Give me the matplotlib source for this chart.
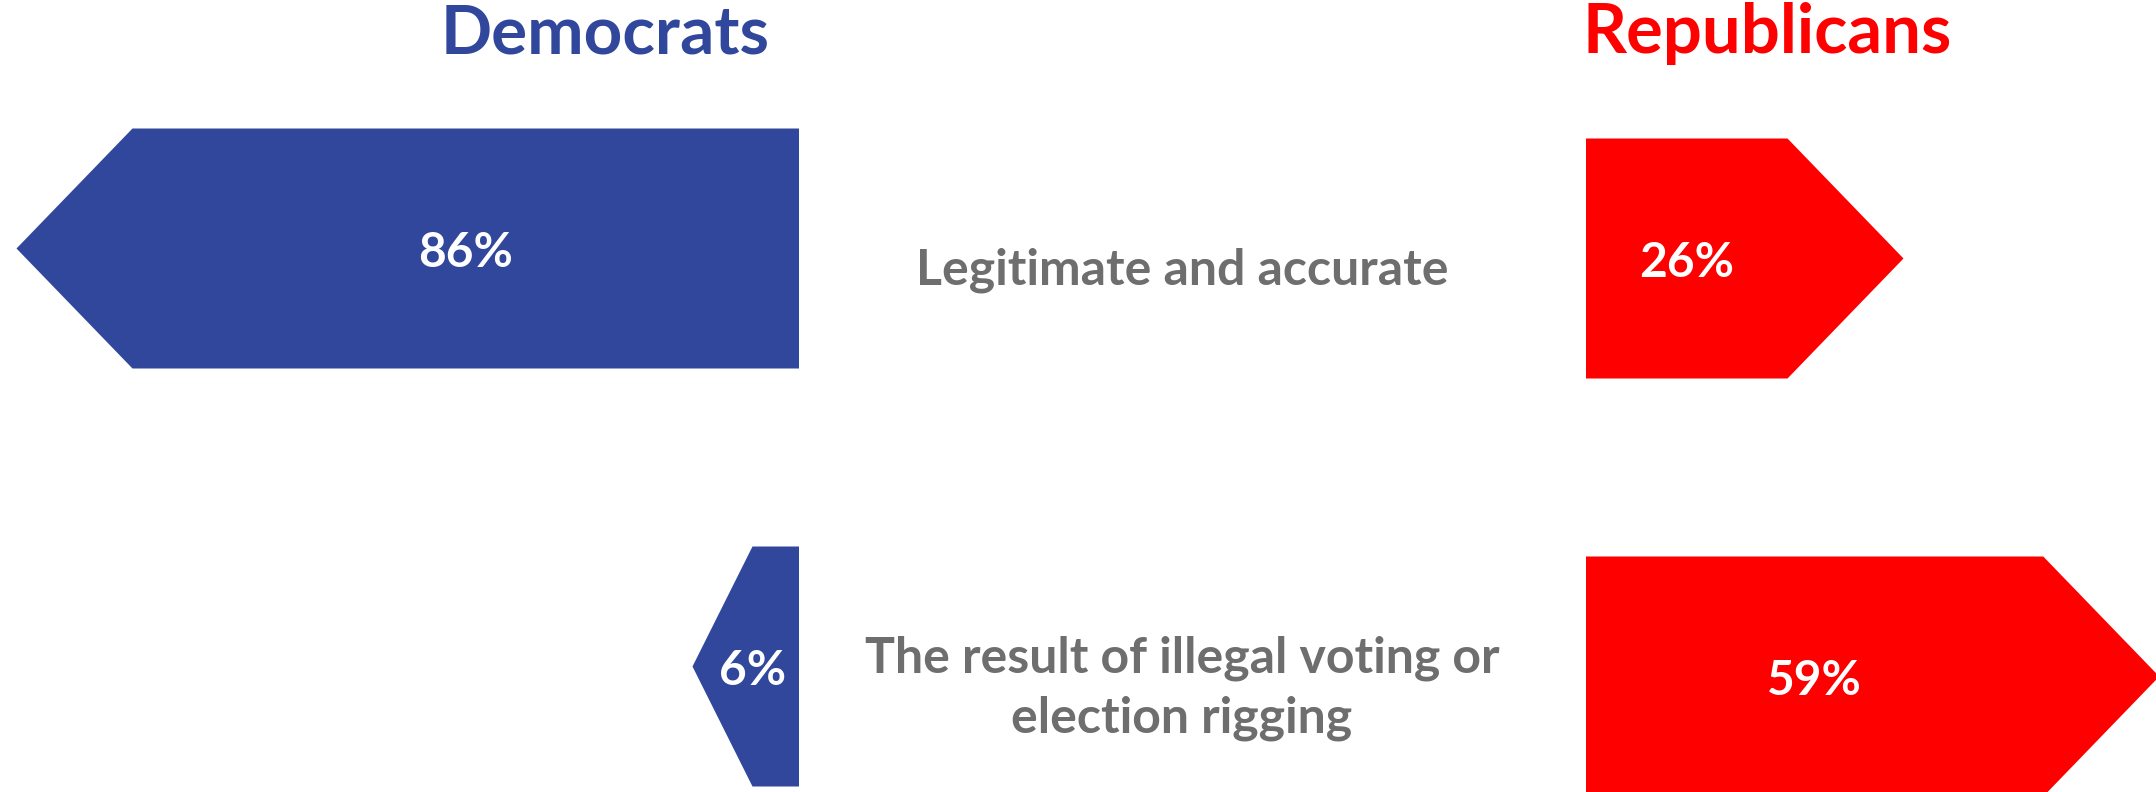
import matplotlib
matplotlib.use("Agg")
import matplotlib.pyplot as plt
from matplotlib.patches import Polygon

# ---- data ----
categories = ["Legitimate and accurate", "The result of illegal voting or\nelection rigging"]
dem_values = [86, 6]
rep_values = [26, 59]
dem_labels = ["86%", "6%"]
rep_labels = ["26%", "59%"]
group_titles = ["Democrats", "Republicans"]

# ---- style / layout (pixel-like data units) ----
W, H = 2156, 792
DEM_COLOR = "#30479C"
REP_COLOR = "#FF0000"
TEXT_GRAY = "#6E6E6E"
FONT = ["Lato", "DejaVu Sans"]

px_per_pct = 7.75
head_max = 116
head_per_pct = 10.0
half_h = 120
dem_anchor = 799
rep_anchor = 1586
row_y = [248.5, 666.5]
rep_dy = 10

fig = plt.figure(figsize=(W / 100, H / 100), dpi=100)
ax = fig.add_axes([0, 0, 1, 1])
ax.set_xlim(0, W)
ax.set_ylim(H, 0)
ax.axis("off")


def arrow(anchor, value, yc, direction, color):
    body = value * px_per_pct
    head = min(head_max, value * head_per_pct)
    x0 = anchor
    x1 = anchor + direction * body
    x2 = x1 + direction * head
    pts = [(x0, yc - half_h), (x1, yc - half_h), (x2, yc),
           (x1, yc + half_h), (x0, yc + half_h)]
    ax.add_patch(Polygon(pts, closed=True, facecolor=color, edgecolor="none"))
    return body


pct_size = 34.5
for i, cat in enumerate(categories):
    yd = row_y[i]
    yr = row_y[i] + rep_dy
    body = arrow(dem_anchor, dem_values[i], yd, -1, DEM_COLOR)
    off = max(body / 2, 46)
    ax.text(dem_anchor - off, yd + 1 + 0.36 * pct_size / 0.72, dem_labels[i],
            color="white", fontsize=pct_size, fontweight="bold", family=FONT,
            ha="center", va="baseline")
    body = arrow(rep_anchor, rep_values[i], yr, 1, REP_COLOR)
    off = max(body / 2, 46)
    ax.text(rep_anchor + off, yr + 1 + 0.36 * pct_size / 0.72, rep_labels[i],
            color="white", fontsize=pct_size, fontweight="bold", family=FONT,
            ha="center", va="baseline")
    lines = cat.split("\n")
    n = len(lines)
    for j, ln in enumerate(lines):
        base = yd + 36 + (j - (n - 1) / 2) * 60
        ax.text(1182, base, ln, color=TEXT_GRAY, fontsize=36, fontweight="bold",
                family=FONT, ha="center", va="baseline")

ax.text(605, 53, group_titles[0], color=DEM_COLOR, fontsize=48.5, fontweight="bold",
        family=FONT, ha="center", va="baseline")
ax.text(1767, 53, group_titles[1], color=REP_COLOR, fontsize=49.5, fontweight="bold",
        family=FONT, ha="center", va="baseline")

fig.savefig("out.png", dpi=100, facecolor="white")
